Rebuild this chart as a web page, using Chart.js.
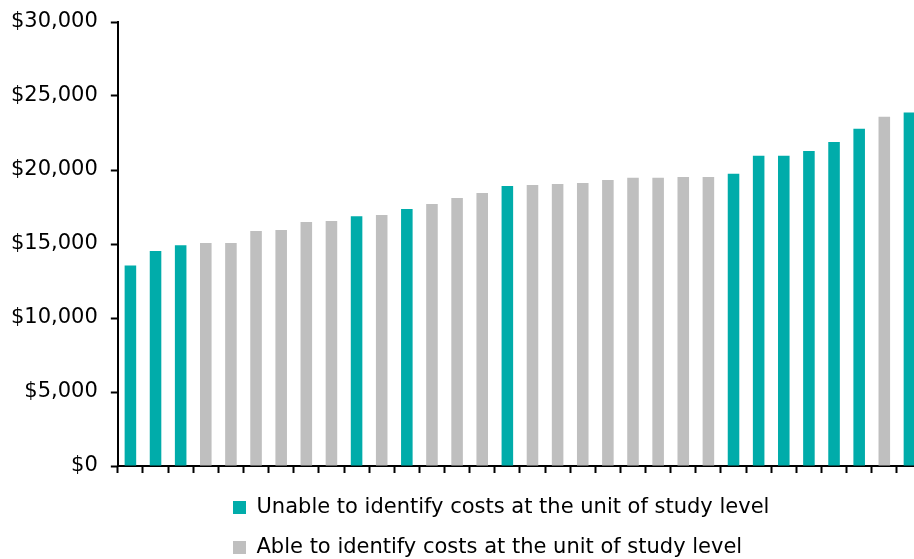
<!DOCTYPE html>
<html>
<head>
<meta charset="utf-8">
<script src="https://cdn.jsdelivr.net/npm/chart.js@4/dist/chart.umd.min.js"></script>
<style>
  html, body { margin: 0; padding: 0; background: #ffffff; }
  #clip { width: 914px; height: 559px; overflow: hidden; position: relative; }
  #wrap { width: 922px; height: 559px; position: relative; }
</style>
</head>
<body>
<div id="clip"><div id="wrap"><canvas id="myChart"></canvas></div></div>
<script>
// one bar per institution, sorted by cost
var institutions = ['1', '2', '3', '4', '5', '6', '7', '8', '9', '10', '11', '12', '13', '14', '15', '16',
                    '17', '18', '19', '20', '21', '22', '23', '24', '25', '26', '27', '28', '29', '30', '31', '32'];

var unableCosts = [13550, 14530, 14910, null, null, null, null, null, null, 16870, null, 17370, null, null, null, 18920,
                   null, null, null, null, null, null, null, null, 19740, 20960, 20960, 21290, 21900, 22780, null, 23880];

var ableCosts = [null, null, null, 15070, 15070, 15880, 15950, 16490, 16560, null, 16960, null, 17710, 18110, 18450, null,
                 18990, 19060, 19130, 19330, 19470, 19470, 19530, 19530, null, null, null, null, null, null, 23590, null];

var yTicks = [0, 5000, 10000, 15000, 20000, 25000, 30000];

var seriesNames = ['Unable to identify costs at the unit of study level',
                   'Able to identify costs at the unit of study level'];

// legend rows start at the same x, like the original
var legendLeft = {
    id: 'legendLeft',
    afterLayout: function (chart) {
        chart.legend.left = 214;
        chart.legend.top += 5;
    }
};

document.addEventListener('DOMContentLoaded', function () {
    var ctx = document.getElementById('myChart').getContext('2d');
    new Chart(ctx, {
        type: 'bar',
        data: {
            labels: institutions,
            datasets: [{
                label: seriesNames[0],
                data: unableCosts,
                backgroundColor: '#00ACAA',
                borderWidth: 0
            }, {
                label: seriesNames[1],
                data: ableCosts,
                backgroundColor: '#BFBFBF',
                borderWidth: 0
            }]
        },
        options: {
            responsive: true,
            maintainAspectRatio: false,
            animation: false,
            skipNull: true,
            categoryPercentage: 1,
            barPercentage: 0.46,
            layout: {
                padding: { top: 22, left: -2, right: 0, bottom: -4 }
            },
            scales: {
                x: {
                    offset: true,
                    grid: {
                        offset: true,
                        drawOnChartArea: false,
                        tickLength: 7,
                        tickWidth: 2,
                        tickColor: '#000000'
                    },
                    border: { color: '#000000', width: 2 },
                    ticks: { display: false }
                },
                y: {
                    min: 0,
                    max: 30000,
                    afterBuildTicks: function (axis) {
                        axis.ticks = yTicks.map(function (v) { return { value: v }; });
                    },
                    grid: {
                        drawOnChartArea: false,
                        tickLength: 7,
                        tickWidth: 2,
                        tickColor: '#000000'
                    },
                    border: { color: '#000000', width: 2 },
                    ticks: {
                        padding: 13,
                        color: '#000000',
                        font: { family: 'DejaVu Sans', size: 21, lineHeight: 0.8 },
                        callback: function (value) {
                            return '$' + value.toLocaleString('en-US');
                        }
                    }
                }
            },
            plugins: {
                legend: {
                    position: 'bottom',
                    align: 'start',
                    labels: {
                        boxWidth: 13,
                        boxHeight: 13,
                        padding: 19,
                        color: '#000000',
                        font: { family: 'DejaVu Sans', size: 21, lineHeight: 0.72 }
                    }
                },
                tooltip: { enabled: false }
            }
        },
        plugins: [legendLeft]
    });
});
</script>
</body>
</html>
